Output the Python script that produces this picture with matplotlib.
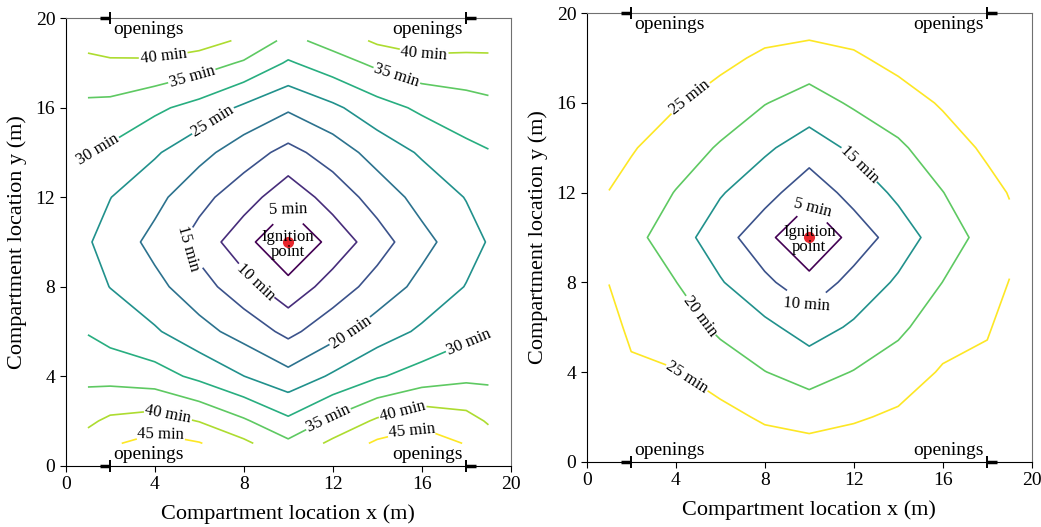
import numpy as np
import matplotlib.pyplot as plt

plt.rcParams['font.family'] = ['Liberation Serif', 'DejaVu Serif']

# grid nodes of the compartment (m)
grid_x = [1, 2, 4, 6, 8, 10, 12, 14, 16, 18, 19]
grid_y = [1, 2, 4, 6, 8, 10, 12, 14, 16, 18, 19]

# fire arrival time (min) at grid nodes, one row per grid_y value
time_left = [
    [42.0, 44.3, 47.0, 45.3, 41.1, 36.0, 41.1, 45.9, 47.0, 44.8, 42.4],
    [39.1, 41.0, 42.3, 39.8, 35.7, 31.0, 36.1, 40.8, 44.0, 41.9, 39.5],
    [33.7, 33.3, 32.1, 28.8, 25.05, 21.6, 25.7, 29.5, 32.0, 33.8, 33.9],
    [29.7, 28.1, 25.6, 21.7, 18.1, 13.7, 18.1, 22.5, 25.8, 28.7, 29.8],
    [26.8, 24.9, 21.4, 17.1, 12.0, 6.7, 12.2, 17.0, 21.5, 25.2, 27.5],
    [25.4, 23.2, 18.5, 13.1, 6.8, 0.0, 6.7, 12.8, 18.4, 23.1, 25.3],
    [27.8, 25.1, 21.5, 16.5, 12.25, 6.8, 12.1, 17.0, 21.8, 25.2, 27.5],
    [30.2, 29.0, 25.6, 21.6, 17.3, 13.5, 17.2, 22.0, 25.6, 28.7, 29.7],
    [33.9, 33.6, 31.0, 28.2, 24.1, 20.7, 24.0, 28.0, 30.9, 32.8, 33.6],
    [38.8, 39.3, 39.3, 37.4, 34.4, 29.4, 32.75, 36.1, 38.5, 38.4, 38.7],
    [41.5, 42.3, 42.5, 42.1, 39.2, 33.6, 36.9, 40.8, 42.1, 41.8, 41.6],
]
time_right = [
    [28.5, 27.5, 28.0, 27.5, 26.3, 25.65, 26.4, 27.0, 28.0, 28.0, 29.0],
    [28.0, 27.0, 27.0, 26.5, 24.3, 23.1, 24.4, 25.8, 27.0, 27.5, 28.5],
    [27.0, 25.5, 25.2, 22.7, 20.1, 18.0, 20.2, 22.4, 25.5, 26.0, 27.5],
    [26.0, 24.4, 22.6, 19.0, 16.2, 12.8, 15.7, 19.0, 22.8, 24.6, 26.5],
    [24.95, 23.3, 20.1, 15.4, 11.1, 6.7, 11.8, 15.7, 20.05, 23.4, 25.1],
    [23.7, 21.6, 17.2, 12.3, 6.6, 0.0, 6.9, 12.5, 17.4, 21.8, 23.9],
    [24.9, 23.4, 19.8, 15.4, 11.9, 6.8, 11.9, 16.0, 19.9, 23.6, 25.2],
    [26.9, 25.4, 22.6, 19.5, 15.8, 12.6, 15.9, 19.2, 22.7, 25.8, 27.0],
    [28.5, 28.0, 25.4, 22.9, 20.2, 17.8, 20.7, 22.8, 25.5, 28.0, 29.0],
    [30.0, 30.0, 28.0, 26.3, 24.1, 23.0, 24.3, 26.5, 28.0, 30.0, 30.5],
    [31.0, 31.0, 29.5, 27.8, 26.1, 25.5, 26.2, 28.0, 29.5, 31.0, 31.0],
]
levels_left = [5, 10, 15, 20, 25, 30, 35, 40, 45]
levels_right = [5, 10, 15, 20, 25]

# where the inline labels sit
labels_left = [(10.0, 11.45), (8.3, 8.0), (5.45, 9.7), (12.85, 5.9), (6.6, 15.45),
               (1.4, 14.2), (5.7, 17.3), (4.4, 18.2), (14.9, 17.5), (16.1, 18.4),
               (18.2, 5.3), (11.8, 2.1), (4.6, 2.3), (4.3, 1.55), (15.1, 2.6), (15.5, 1.8)]
labels_right = [(10.2, 11.4), (9.9, 7.0), (12.2, 13.2), (5.1, 6.5), (4.6, 16.3), (4.6, 3.9)]

ignition = (10, 10)
openings_x = [2, 18]

fig = plt.figure(figsize=(10.41, 5.27), dpi=100)
ax1 = fig.add_axes([0.0631, 0.1163, 0.4275, 0.849])
ax2 = fig.add_axes([0.5636, 0.1239, 0.4275, 0.8509])


def draw_panel(ax, times, levels, label_pos):
    cs = ax.contour(grid_x, grid_y, np.array(times), levels=levels,
                    cmap='viridis', linewidths=1.2)
    ax.clabel(cs, fmt='%d min', fontsize=12, colors='k', inline=True,
              inline_spacing=4, manual=label_pos)
    ax.plot(*ignition, 'o', color='#e8262c', ms=7, zorder=5)
    ax.text(ignition[0], ignition[1] - 0.1, 'Ignition\npoint', ha='center',
            va='center', fontsize=12, linespacing=0.9, zorder=6)

    # openings on the walls
    for x0, side in zip(openings_x, [-1, 1]):
        for y0 in [0, 20]:
            ax.plot([x0 + side * 0.45, x0], [y0, y0], color='k', lw=2.5,
                    clip_on=False, solid_capstyle='butt', zorder=7)
            ax.plot([x0], [y0], marker='|', ms=9, mew=1.4, color='k',
                    clip_on=False, zorder=7)
    ax.text(2.15, 19.9, 'openings', ha='left', va='top', fontsize=14)
    ax.text(17.85, 19.9, 'openings', ha='right', va='top', fontsize=14)
    ax.text(2.15, 0.1, 'openings', ha='left', va='bottom', fontsize=14)
    ax.text(17.85, 0.1, 'openings', ha='right', va='bottom', fontsize=14)

    ax.set_xlim(0, 20)
    ax.set_ylim(0, 20)
    ax.set_xticks([0, 4, 8, 12, 16, 20])
    ax.set_yticks([0, 4, 8, 12, 16, 20])
    ax.tick_params(labelsize=14, length=4)
    ax.set_xlabel('Compartment location x (m)', fontsize=16, labelpad=8)
    ax.set_ylabel('Compartment location y (m)', fontsize=16, labelpad=6)
    for s in ['top', 'right']:
        ax.spines[s].set_color('#707070')


draw_panel(ax1, time_left, levels_left, labels_left)
draw_panel(ax2, time_right, levels_right, labels_right)

fig.savefig('out.png', dpi=100)
